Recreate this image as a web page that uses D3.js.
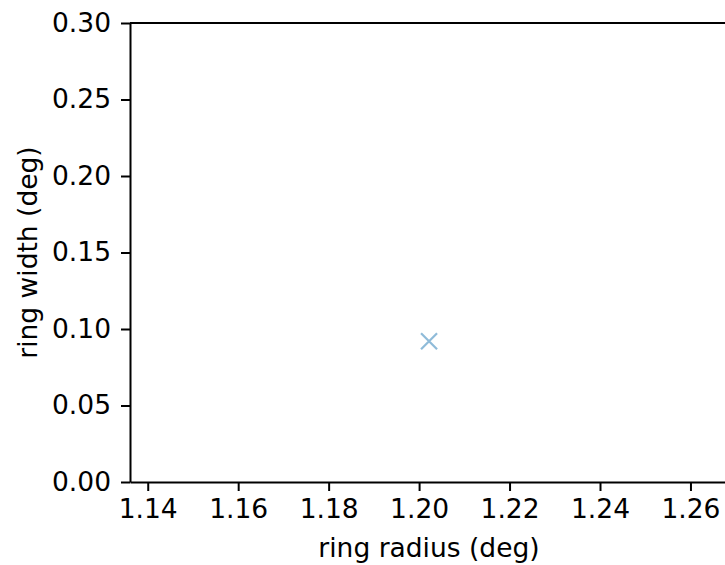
<!DOCTYPE html>
<html>
<head>
<meta charset="utf-8">
<script src="https://cdn.jsdelivr.net/npm/d3@7"></script>
<style>
  html, body { margin: 0; padding: 0; background: #fff; }
  svg { display: block; }
  text { font-family: "DejaVu Sans", sans-serif; fill: #000; }
</style>
</head>
<body>
<svg id="chart" width="725" height="565"></svg>
<script>
// Data
const ringRadius = [1.2022];
const ringWidth = [0.092];
const xTicks = [1.14, 1.16, 1.18, 1.20, 1.22, 1.24, 1.26];
const yTicks = [0.00, 0.05, 0.10, 0.15, 0.20, 0.25, 0.30];
const xDomain = [1.13608, 1.2683];
const yDomain = [0.0, 0.30];
const xLabel = "ring radius (deg)";
const yLabel = "ring width (deg)";

(function () {
const svg = d3.select("#chart");
const pLeft = 130, pRight = 728, pTop = 23, pBottom = 482;

const x = d3.scaleLinear().domain(xDomain).range([pLeft, pRight]);
const y = d3.scaleLinear().domain(yDomain).range([pBottom, pTop]);

const fs = 26.5;

const xAxis = svg.append("g")
  .attr("transform", `translate(0,${pBottom})`)
  .call(d3.axisBottom(x).tickValues(xTicks).tickFormat(d3.format(".2f"))
    .tickSize(9).tickPadding(8).tickSizeOuter(0));
const yAxis = svg.append("g")
  .attr("transform", `translate(${pLeft},0)`)
  .call(d3.axisLeft(y).tickValues(yTicks).tickFormat(d3.format(".2f"))
    .tickSize(9).tickPadding(10).tickSizeOuter(0));

[xAxis, yAxis].forEach(g => {
  g.selectAll("text").style("font-size", fs + "px").style("font-family", "DejaVu Sans, sans-serif");
  g.selectAll("line").attr("stroke", "#000").attr("stroke-width", 2);
  g.select(".domain").attr("stroke", "#000").attr("stroke-width", 2);
});

// top spine
svg.append("line")
  .attr("x1", pLeft).attr("x2", pRight)
  .attr("y1", pTop).attr("y2", pTop)
  .attr("stroke", "#000").attr("stroke-width", 2);

// marker (x)
const m = 8;
svg.selectAll("path.pt").data(ringRadius.map((r, i) => [r, ringWidth[i]]))
  .enter().append("path").attr("class", "pt")
  .attr("d", d => {
    const cx = x(d[0]), cy = y(d[1]);
    return `M${cx - m},${cy - m}L${cx + m},${cy + m}M${cx - m},${cy + m}L${cx + m},${cy - m}`;
  })
  .attr("stroke", "#1f77b4").attr("stroke-opacity", 0.5)
  .attr("stroke-width", 2.2).attr("fill", "none");

// axis labels
svg.append("text")
  .attr("x", (pLeft + pRight) / 2).attr("y", 557)
  .attr("text-anchor", "middle").style("font-size", fs + "px")
  .text(xLabel);
svg.append("text")
  .attr("transform", `translate(37,${(pTop + pBottom) / 2}) rotate(-90)`)
  .attr("text-anchor", "middle").style("font-size", fs + "px")
  .text(yLabel);
})();
</script>
</body>
</html>
